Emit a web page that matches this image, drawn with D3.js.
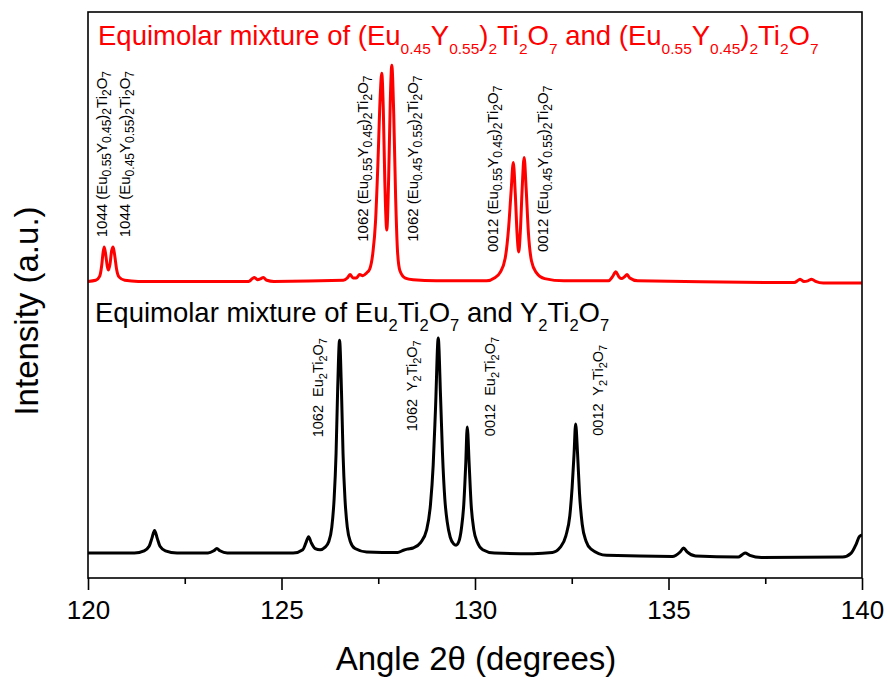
<!DOCTYPE html>
<html>
<head>
<meta charset="utf-8">
<script src="https://cdn.jsdelivr.net/npm/d3@7"></script>
<style>
  body { margin: 0; background: #fff; }
  svg { display: block; font-family: "Liberation Sans", Arial, sans-serif; }
</style>
</head>
<body>
<div class="graphHolder"></div>
<script>
// angle (deg), intensity (a.u.)
let blackPattern = [
  [120.0, 4.4], [121.2, 4.4], [121.45, 4.8], [121.58, 5.6], [121.65, 7.0], [121.72, 8.4],
  [121.79, 7.0], [121.86, 5.6], [122.0, 4.8], [122.3, 4.4], [123.1, 4.4], [123.25, 4.8],
  [123.33, 5.2], [123.41, 4.8], [123.6, 4.4], [125.3, 4.4], [125.55, 5.0], [125.63, 6.2],
  [125.7, 7.3], [125.77, 6.2], [125.87, 5.2], [126.0, 5.0], [126.12, 5.4], [126.22, 6.4],
  [126.3, 9.0], [126.36, 14], [126.41, 22], [126.45, 33], [126.5, 42], [126.55, 33],
  [126.59, 22], [126.64, 14], [126.7, 9.0], [126.78, 6.4], [126.9, 5.2], [127.2, 4.6],
  [128.0, 4.5], [128.15, 4.9], [128.25, 5.1], [128.4, 5.3], [128.6, 6.3], [128.75, 8.5],
  [128.85, 13], [128.92, 20], [128.98, 30], [129.05, 42.4], [129.11, 32], [129.16, 22],
  [129.22, 14], [129.28, 10], [129.36, 7.2], [129.45, 6.0], [129.51, 5.8], [129.58, 6.4],
  [129.65, 8.8], [129.71, 13], [129.76, 20], [129.8, 26.7], [129.85, 20], [129.9, 13],
  [129.97, 8.5], [130.06, 6.3], [130.2, 5.0], [130.5, 4.4], [131.5, 4.3], [132.0, 4.5],
  [132.2, 5.4], [132.35, 7.5], [132.45, 11], [132.51, 16], [132.56, 22], [132.6, 27.2],
  [132.65, 22], [132.7, 15], [132.77, 9.5], [132.87, 6.5], [133.0, 5.1], [133.4, 4.0],
  [135.1, 3.8], [135.3, 4.6], [135.39, 5.3], [135.48, 4.6], [135.7, 3.9], [136.8, 3.7],
  [136.92, 4.2], [136.98, 4.4], [137.1, 4.0], [137.4, 3.6], [139.5, 3.7], [139.72, 4.4],
  [139.85, 6.0], [139.93, 7.3], [140.0, 7.6]
];

let redPattern = [
  [120.0, 52.4], [120.2, 52.6], [120.3, 53.3], [120.35, 55.0], [120.39, 57.5], [120.42, 58.5],
  [120.46, 57.0], [120.5, 55.0], [120.53, 54.4], [120.57, 55.5], [120.61, 57.8], [120.65, 58.5],
  [120.69, 57.0], [120.74, 54.5], [120.8, 53.2], [120.95, 52.6], [121.3, 52.4], [124.15, 52.4],
  [124.25, 52.9], [124.3, 53.1], [124.38, 52.7], [124.47, 52.9], [124.53, 53.1], [124.62, 52.6],
  [124.8, 52.4], [126.6, 52.6], [126.7, 53.0], [126.77, 53.6], [126.85, 53.0], [126.93, 53.0],
  [127.02, 53.6], [127.1, 53.4], [127.2, 53.9], [127.28, 54.6], [127.36, 57.4], [127.43, 63],
  [127.49, 73], [127.55, 85], [127.59, 89.2], [127.63, 83], [127.67, 70], [127.72, 61.5],
  [127.77, 71], [127.81, 84], [127.85, 90.6], [127.9, 82], [127.95, 67], [128.0, 57.5],
  [128.06, 54.3], [128.2, 53.0], [128.4, 52.7], [129.0, 52.5], [130.3, 52.5], [130.5, 53.0],
  [130.65, 54.0], [130.78, 56.5], [130.87, 62], [130.93, 68], [130.99, 73.4], [131.04, 68],
  [131.09, 60.5], [131.13, 57.6], [131.17, 61], [131.22, 69], [131.27, 74.3], [131.32, 69],
  [131.38, 61], [131.46, 56.0], [131.58, 54.0], [131.8, 52.9], [132.3, 52.5], [133.45, 52.5],
  [133.55, 53.2], [133.64, 54.1], [133.72, 53.2], [133.8, 52.9], [133.86, 53.2], [133.93, 53.6],
  [134.0, 53.0], [134.2, 52.5], [138.25, 52.2], [138.35, 52.6], [138.4, 52.8], [138.5, 52.4],
  [138.6, 52.5], [138.7, 52.8], [138.8, 52.4], [139.0, 52.1], [140.0, 52.1]
];

let majorTicks = [120, 125, 130, 135, 140];
let minorTicks = [122.5, 127.5, 132.5, 137.5];

let redTitle = "Equimolar mixture of (Eu_{0.45}Y_{0.55})_{2}Ti_{2}O_{7} and (Eu_{0.55}Y_{0.45})_{2}Ti_{2}O_{7}";
let blackTitle = "Equimolar mixture of Eu_{2}Ti_{2}O_{7} and Y_{2}Ti_{2}O_{7}";

// peak labels: text, angle of label baseline, intensity where the label starts
let redLabels = [
  ["1044 (Eu_{0.55}Y_{0.45})_{2}Ti_{2}O_{7}", 120.49, 60.2],
  ["1044 (Eu_{0.45}Y_{0.55})_{2}Ti_{2}O_{7}", 121.09, 60.2],
  ["1062 (Eu_{0.55}Y_{0.45})_{2}Ti_{2}O_{7}", 127.24, 59.4],
  ["1062 (Eu_{0.45}Y_{0.55})_{2}Ti_{2}O_{7}", 128.53, 59.4],
  ["0012 (Eu_{0.55}Y_{0.45})_{2}Ti_{2}O_{7}", 130.59, 57.6],
  ["0012 (Eu_{0.45}Y_{0.55})_{2}Ti_{2}O_{7}", 131.89, 57.6]
];
// black labels: intensity where the label ends (top)
let blackLabels = [
  ["1062  Eu_{2}Ti_{2}O_{7}", 126.07, 42.4],
  ["1062  Y_{2}Ti_{2}O_{7}", 128.5, 42.0],
  ["0012  Eu_{2}Ti_{2}O_{7}", 130.52, 42.6],
  ["0012  Y_{2}Ti_{2}O_{7}", 133.31, 41.2]
];

let W = 890, H = 681,
  xLeft = 88, xRight = 862, yTop = 12, yBottom = 578;

let svg = d3.select(".graphHolder")
  .append("svg")
  .attr("width", W)
  .attr("height", H);

let xScale = d3.scaleLinear().domain([120, 140]).range([xLeft, xRight]);
let yScale = d3.scaleLinear().domain([0, 100]).range([yBottom, yTop]);

// writes "A_{b}C" style text as tspans with subscripts
function rich(textSel, str, size, subSize, shift) {
  let parts = str.split(/(_\{[^}]*\})/).filter(s => s.length);
  let down = false;
  parts.forEach(p => {
    let t = textSel.append("tspan");
    if (p.startsWith("_{")) {
      t.text(p.slice(2, -1)).attr("font-size", subSize);
      if (!down) { t.attr("dy", shift); down = true; }
    } else {
      t.text(p).attr("font-size", size);
      if (down) { t.attr("dy", -shift); down = false; }
    }
  });
  return textSel;
}

let line = d3.line()
  .x(d => xScale(d[0]))
  .y(d => yScale(d[1]))
  .curve(d3.curveMonotoneX);

svg.append("defs").append("clipPath").attr("id", "clip")
  .append("rect").attr("x", xLeft).attr("y", yTop)
  .attr("width", xRight - xLeft).attr("height", yBottom - yTop);

svg.append("path")
  .datum(blackPattern)
  .attr("d", line)
  .attr("fill", "none")
  .attr("stroke", "#000")
  .attr("stroke-width", 3)
  .attr("stroke-linejoin", "round")
  .attr("clip-path", "url(#clip)");

svg.append("path")
  .datum(redPattern)
  .attr("d", line)
  .attr("fill", "none")
  .attr("stroke", "#ff0000")
  .attr("stroke-width", 3)
  .attr("stroke-linejoin", "round")
  .attr("clip-path", "url(#clip)");

// frame
svg.append("rect")
  .attr("x", xLeft).attr("y", yTop)
  .attr("width", xRight - xLeft).attr("height", yBottom - yTop)
  .attr("fill", "none")
  .attr("stroke", "#000")
  .attr("stroke-width", 1.6);

// x axis
let xAxis = d3.axisBottom(xScale)
  .tickValues(majorTicks)
  .tickSizeInner(12)
  .tickSizeOuter(0)
  .tickPadding(11)
  .tickFormat(d3.format("d"));

let xAxisGroup = svg.append("g")
  .attr("transform", "translate(0," + yBottom + ")")
  .call(xAxis);
xAxisGroup.select(".domain").remove();
xAxisGroup.selectAll("line").attr("stroke-width", 1.6);
xAxisGroup.selectAll("text")
  .attr("font-size", 26)
  .attr("font-family", "Liberation Sans, Arial, sans-serif")
  .attr("fill", "#000");

let minorAxis = svg.append("g")
  .attr("transform", "translate(0," + yBottom + ")")
  .call(d3.axisBottom(xScale).tickValues(minorTicks).tickSize(6).tickFormat(""));
minorAxis.select(".domain").remove();
minorAxis.selectAll("line").attr("stroke-width", 1.6);

// axis titles
svg.append("text")
  .attr("x", 476)
  .attr("y", 670)
  .attr("text-anchor", "middle")
  .attr("font-size", 33)
  .text("Angle 2\u03b8 (degrees)");

svg.append("text")
  .attr("transform", "translate(38,311) rotate(-90)")
  .attr("text-anchor", "middle")
  .attr("font-size", 33)
  .text("Intensity (a.u.)");

// series titles
rich(svg.append("text").attr("x", 98).attr("y", 45).attr("fill", "#ff0000"),
  redTitle, 27.5, 15.5, 9);
rich(svg.append("text").attr("x", 95).attr("y", 322).attr("fill", "#000"),
  blackTitle, 27.5, 16.5, 9);

// peak labels
redLabels.forEach(l => {
  rich(svg.append("text")
    .attr("transform", "translate(" + xScale(l[1]) + "," + yScale(l[2]) + ") rotate(-90)")
    .attr("text-anchor", "start")
    .style("white-space", "pre"),
    l[0], 15, 12, 4);
});

blackLabels.forEach(l => {
  rich(svg.append("text")
    .attr("transform", "translate(" + xScale(l[1]) + "," + yScale(l[2]) + ") rotate(-90)")
    .attr("text-anchor", "end")
    .style("white-space", "pre"),
    l[0], 14.5, 11, 4);
});
</script>
</body>
</html>
